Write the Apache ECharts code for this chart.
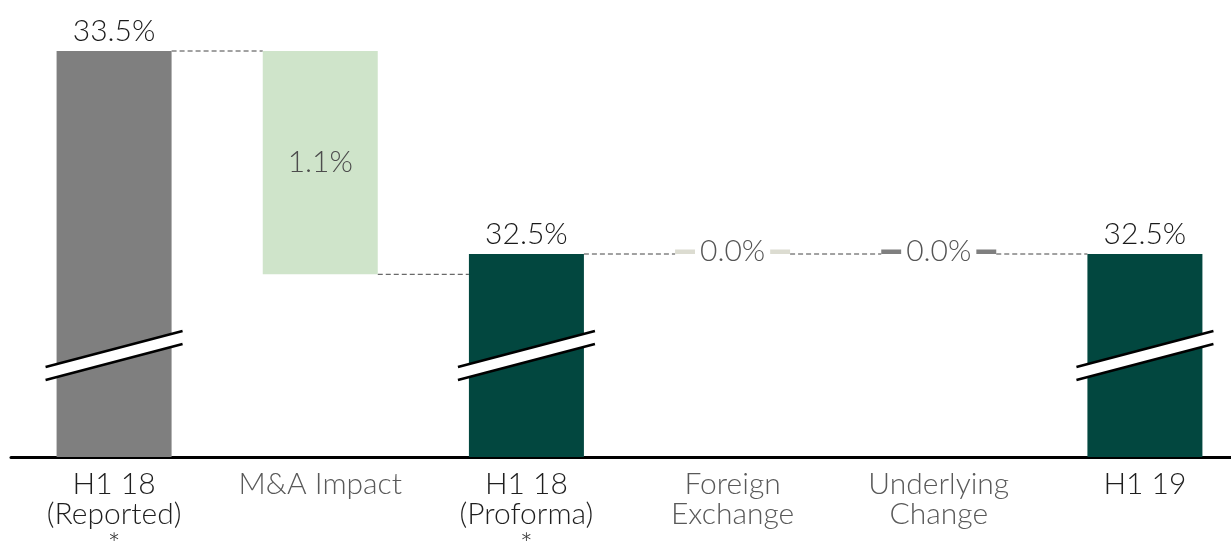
<!DOCTYPE html>
<html>
<head>
<meta charset="utf-8">
<style>
  html, body { margin: 0; padding: 0; background: #ffffff; }
  #chart { width: 1231px; height: 548px; }
</style>
<script src="https://cdn.jsdelivr.net/npm/echarts@6/dist/echarts.min.js"></script>
</head>
<body>
<div id="chart"></div>
<script>
// Margin bridge, H1 18 reported to H1 19 (%)
const categories = ['H1 18\n(Reported)\n*', 'M&A Impact', 'H1 18\n(Proforma)\n*', 'Foreign\nExchange', 'Underlying\nChange', 'H1 19'];
const totals = [33.5, '-', 32.5, '-', '-', 32.5];
const changes = ['-', -1.1, '-', 0.0, 0.0, '-'];
const breakLevel = 32.0;

const labelColors = ['#1f1f1f', '#595959', '#1f1f1f', '#595959', '#595959', '#1f1f1f'];
const totalColors = ['#7f7f7f', null, '#02473f', null, null, '#02473f'];
const changeColors = [null, '#cfe4ca', null, '#dcdcd1', '#7f7f7f', null];
const BAR_W = 115;
const FONT = 'Lato, "Noto Sans", sans-serif';

// running level of the bridge: floating base + size for each change step
const r1 = v => Math.round(v * 10) / 10;
const bases = [], sizes = [], ends = [];
let level = null;
categories.forEach((c, i) => {
  if (totals[i] !== '-') {
    level = totals[i];
    bases.push('-'); sizes.push('-');
  } else {
    const next = r1(level + changes[i]);
    bases.push(Math.min(level, next));
    sizes.push(r1(Math.abs(changes[i])));
    level = next;
  }
  ends.push(level);
});
const connectors = ends.slice(0, -1).map((v, i) => [i, v]);
const breaks = totals.map((v, i) => v === '-' ? null : [i, breakLevel]).filter(Boolean);

const chart = echarts.init(document.getElementById('chart'), null, { renderer: 'canvas' });
chart.setOption({
  animation: false,
  backgroundColor: '#ffffff',
  grid: { left: 11, right: -17, top: 10.4, bottom: 91, outerBoundsMode: 'none', containLabel: false },
  xAxis: {
    type: 'category',
    data: categories.map((c, i) => ({ value: c, textStyle: { color: labelColors[i] } })),
    axisLine: { show: true, lineStyle: { color: '#000000', width: 3 } },
    axisTick: { show: false },
    axisLabel: { fontFamily: FONT, fontWeight: 300, fontSize: 30, lineHeight: 30, margin: 12, interval: 0 }
  },
  yAxis: {
    type: 'value', min: 31.5, max: 33.7,
    show: false, splitLine: { show: false }
  },
  series: [
    {
      name: 'Total', type: 'bar', barWidth: BAR_W, barGap: '-100%', clip: true,
      data: totals.map((v, i) => v === '-' ? '-' : { value: v, itemStyle: { color: totalColors[i] } }),
      label: {
        show: true, position: 'top', distance: 5,
        fontFamily: FONT, fontWeight: 300, fontSize: 30, color: '#1a1a1a',
        formatter: p => p.value.toFixed(1) + '%'
      },
      z: 2
    },
    {
      name: 'Base', type: 'bar', stack: 'bridge', barWidth: BAR_W, barGap: '-100%',
      itemStyle: { color: 'transparent' }, silent: true,
      data: bases, z: 2
    },
    {
      name: 'Change', type: 'bar', stack: 'bridge', barWidth: BAR_W, barGap: '-100%',
      barMinHeight: 4.5,
      data: sizes.map((v, i) => v === '-' ? '-' : {
        value: v,
        itemStyle: { color: changeColors[i] },
        label: v === 0
          ? { backgroundColor: '#ffffff', padding: [0, 5], color: '#555555' }
          : { color: '#4d4d4d' }
      }),
      label: {
        show: true, position: 'inside',
        fontFamily: FONT, fontWeight: 300, fontSize: 30,
        formatter: p => p.value.toFixed(1) + '%'
      },
      z: 2
    },
    {
      // dashed connectors between consecutive bars
      name: 'Connector', type: 'custom', silent: true, z: 1,
      data: connectors,
      renderItem: (params, api) => {
        const a = api.coord([api.value(0), api.value(1)]);
        const b = api.coord([api.value(0) + 1, api.value(1)]);
        return {
          type: 'line',
          shape: { x1: a[0] + BAR_W / 2, y1: a[1], x2: b[0] - BAR_W / 2, y2: b[1] },
          style: { stroke: '#444444', lineWidth: 1, lineDash: [5, 3] }
        };
      }
    },
    {
      // axis-break marks across the total bars
      name: 'Break', type: 'custom', silent: true, z: 5,
      data: breaks,
      renderItem: (params, api) => {
        const c = api.coord([api.value(0), api.value(1)]);
        const hw = BAR_W / 2 + 11, rise = 18, gap = 6.5;
        const x0 = c[0] - hw, x1 = c[0] + hw;
        return {
          type: 'group',
          children: [
            { type: 'polygon', shape: { points: [[x0, c[1] + rise - gap], [x1, c[1] - rise - gap], [x1, c[1] - rise + gap], [x0, c[1] + rise + gap]] },
              style: { fill: '#ffffff' } },
            { type: 'line', shape: { x1: x0, y1: c[1] + rise - gap, x2: x1, y2: c[1] - rise - gap },
              style: { stroke: '#000000', lineWidth: 2.5 } },
            { type: 'line', shape: { x1: x0, y1: c[1] + rise + gap, x2: x1, y2: c[1] - rise + gap },
              style: { stroke: '#000000', lineWidth: 2.5 } }
          ]
        };
      }
    }
  ]
});
</script>
</body>
</html>
